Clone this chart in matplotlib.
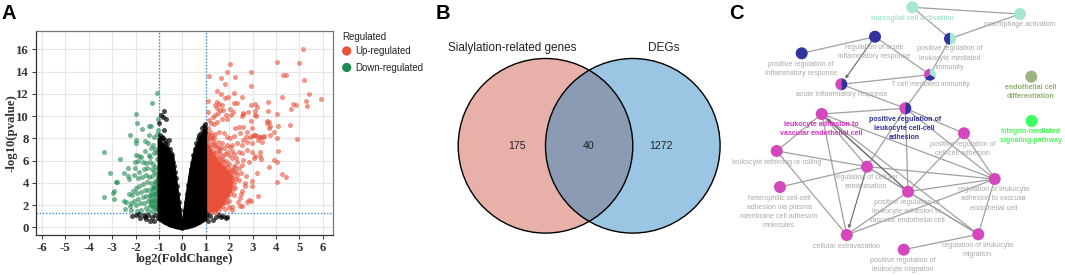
import matplotlib
matplotlib.use("Agg")
import matplotlib.pyplot as plt
from matplotlib.patches import Circle, Wedge

plt.rcParams['axes.unicode_minus'] = False
W, H = 1065, 275
SANS = 'Liberation Sans'
SERIF = 'Liberation Serif'

# ---------- Panel A data
x_ticks = list(range(-6, 7))
y_ticks = list(range(0, 17, 2))
up_points = [(5.17,16.0),(2.05,14.7),(4.03,14.9),(4.98,14.8),(1.92,14.0),(2.93,14.0),(1.14,13.6),(1.66,13.4),(2.23,13.5),
 (4.28,13.7),(4.42,13.7),(5.21,13.2),(1.83,12.9),(2.93,12.7),(1.46,12.3),(2.19,12.1),(5.41,12.0),(1.65,12.0),(4.25,11.7),
 (2.54,11.7),(1.95,11.7),(5.92,11.5),(1.09,11.35),(3.65,11.3),(5.27,11.4),(4.72,11.1),(4.86,11.0),(5.31,10.95),(2.93,11.0),
 (3.11,11.05),(3.18,10.8),(4.65,10.6),(3.65,10.5),(4.03,10.2),(2.58,10.2),(3.11,10.1),(4.6,9.2),(4.1,9.15),(3.6,9.6),(3.7,9.5),
 (3.75,9.1),(3.68,8.9),(3.93,8.6),(3.75,8.3),(4.03,8.05),(4.89,7.9),(3.47,8.2),(3.32,8.1),(3.11,8.3),(2.97,8.2),(4.1,6.9),
 (3.93,6.05),(4.05,5.9),(3.68,5.45),(4.26,4.8),(4.42,4.5),(4.05,4.1),(3.18,4.85),
 (1.83,11.6),(1.48,11.3),(1.55,11.1),(1.41,11.0),(1.69,11.0),(2.19,11.2),(2.33,11.2),(1.08,10.4),(1.48,10.7),(1.62,10.55),
 (1.72,10.55),(2.05,10.6),(2.16,10.4),(1.52,10.25),(1.41,10.1),(1.29,9.9),(1.86,10.1),(2.07,10.1),(2.57,10.25),(2.54,10.0),
 (2.8,10.4),(3.08,10.45),(3.14,10.0),(1.69,9.7),(1.9,9.7),(1.12,9.65),(1.24,9.4),(1.33,9.26),(1.48,9.5),(2.4,9.0),(2.23,8.9),
 (2.57,9.05),(2.94,9.6),(3.6,9.35),(2.97,8.96),(2.76,8.6),(3.04,8.3),(3.18,8.2),(3.33,8.15),(3.44,8.15),(2.9,8.15),(2.7,8.1),
 (2.59,7.85),(2.47,8.45),(2.19,8.2),(2.05,8.0),(1.9,8.15),(1.76,8.45),(1.55,8.6),(1.41,8.4),(2.76,7.7),(2.97,7.55),(3.22,7.85),
 (3.4,7.65),(2.54,7.4),(2.33,7.55),(2.12,7.4),(1.9,7.4),(1.76,7.1),(2.05,7.25),(2.4,6.8),(2.54,6.65),(2.76,6.95),(2.97,6.8),
 (3.11,6.4),(3.33,6.8),(3.3,6.4),(3.35,6.1),(3.04,6.2),(2.12,6.2),(2.33,5.9),(2.59,6.05),(2.83,5.9),(2.54,5.6),(2.26,5.45),
 (2.12,5.15),(2.73,4.65),(2.33,4.7),(2.4,4.25),(2.66,4.0),(2.97,4.15),(2.68,3.7),(2.97,3.7),(2.19,3.95),(2.54,3.3),(2.51,3.0),
 (2.47,2.6),(3.25,2.85),(2.83,2.45),(2.94,2.4),(2.76,2.3),(2.36,2.25),(2.54,1.95),(2.12,1.87),(1.97,1.87),(1.83,1.65),(2.47,1.93),
 (2.12,1.55),(2.0,6.5),(1.9,6.8),(2.1,6.9),(2.2,6.6),(2.3,6.2),(2.0,5.7),(2.2,5.5),(2.4,5.3),(2.05,4.9),(2.3,5.0),(2.5,4.9),
 (2.0,4.5),(2.15,4.4),(2.25,3.5),(2.1,3.3),(1.9,2.7),(2.0,2.4),(2.2,2.9),(1.8,2.3),(1.7,1.9),(1.6,7.2),(1.7,7.6),(1.5,7.7),
 (1.35,8.0),(1.2,8.6),(1.1,8.9),(1.3,7.7),(1.85,6.0),(1.75,6.4),(1.65,6.0),(1.05,8.2),(1.15,7.9),(1.25,8.3),(1.4,7.3),(1.55,6.9),
 # dense but not solid part above the solid mass
 (1.04,7.6),(1.08,7.2),(1.03,6.9),(1.12,6.8),(1.06,7.9),(1.18,7.5),(1.24,7.2),(1.3,6.9),(1.22,6.6),(1.35,6.6),(1.42,6.8),(1.48,6.3),
 (1.38,6.1),(1.3,6.3),(1.55,6.2),(1.62,6.6),(1.7,6.1),(1.78,5.9),(1.6,5.7),(1.5,5.6),(1.68,5.5),(1.82,5.4),(1.9,5.5),(1.95,5.1),
 (1.78,5.1),(1.1,8.4),(1.18,8.1),(1.28,8.0),(1.35,7.5),(1.47,7.2),(1.62,7.0),(1.8,6.6),(2.02,5.2),(2.12,4.8),(2.1,4.2),(2.18,3.6),
 (2.05,3.7),(2.02,3.0),(1.92,2.3),(1.75,2.2),(1.62,1.75),(1.5,1.5),(1.38,1.35),(1.25,1.4),(1.12,1.45),(1.04,1.5),(1.9,3.1),
 (2.08,4.5),(2.22,5.1),(2.28,4.3),(2.0,3.4)]
down_points = [(-1.08,12.1),(-1.31,11.2),(-1.96,10.2),(-1.95,9.35),(-1.72,8.8),(-1.44,9.1),(-1.34,9.1),(-1.04,9.7),(-1.05,8.75),
 (-2.25,8.27),(-1.41,8.33),(-1.22,8.09),(-1.08,8.36),(-1.98,7.85),(-2.0,7.55),(-1.58,7.76),(-1.48,7.55),(-1.25,7.4),(-3.33,6.8),
 (-1.86,6.4),(-1.98,6.5),(-1.76,6.3),(-2.67,6.17),(-1.44,6.5),(-1.36,6.3),(-1.22,6.65),(-1.08,6.8),(-2.03,5.85),(-2.33,5.34),
 (-2.03,5.3),(-2.49,4.92),(-3.08,4.88),(-2.32,4.6),(-2.26,4.38),(-2.79,4.08),(-2.82,4.08),(-2.93,3.24),(-2.94,3.12),(-3.35,2.73),
 (-2.91,2.52),(-2.49,2.34),(-2.39,2.31),(-2.46,1.65),(-2.22,1.92),(-2.19,1.56),(-2.15,2.9),(-2.26,3.0),
 (-1.9,6.0),(-1.7,5.9),(-1.55,5.8),(-1.4,5.9),(-1.25,5.7),(-1.1,6.1),(-1.15,5.4),(-1.3,5.2),(-1.5,5.3),(-1.65,5.2),(-1.85,5.0),
 (-2.05,4.7),(-1.9,4.4),(-1.72,4.5),(-1.55,4.7),(-1.42,4.5),(-1.28,4.6),(-1.12,4.8),(-1.18,4.2),(-1.35,4.0),(-1.5,4.1),(-1.68,3.9),
 (-1.85,3.7),(-2.0,3.5),(-2.12,3.3),(-1.95,3.1),(-1.78,3.2),(-1.6,3.4),(-1.45,3.4),(-1.3,3.5),(-1.15,3.6),(-1.08,3.1),(-1.22,3.0),
 (-1.38,2.95),(-1.55,2.85),(-1.7,2.7),(-1.88,2.55),(-2.05,2.4),(-2.2,2.2),(-1.98,2.0),(-1.8,2.2),(-1.62,2.2),(-1.45,2.4),(-1.3,2.4),
 (-1.15,2.5),(-1.08,2.0),(-1.22,1.9),(-1.38,1.9),(-1.55,1.75),(-1.75,1.6),(-1.95,1.5),(-1.12,1.55),(-1.28,1.5),(-1.45,1.45),
 (-1.05,5.2),(-1.05,4.4),(-1.05,3.9),(-1.05,3.3),(-1.05,2.7),(-1.05,2.3),(-1.05,1.7),(-1.15,7.0),(-1.35,7.1),(-1.6,6.9),(-1.2,4.95)]
other_points = [(-2.15,1.05),(-2.0,1.15),(-1.85,1.2),(-1.8,0.85),(-1.65,1.1),(-1.55,0.75),(-1.45,1.1),(-1.4,0.55),(-1.3,0.9),(-1.2,0.55),
 (-1.15,1.15),(-1.05,0.8),(-1.6,0.9),(-0.8,10.5),(-0.91,10.1),(-0.84,9.95),(-0.7,9.7),(-1.0,9.4),(-0.77,8.75),(-0.87,8.15),(-0.58,7.85),
 (-0.72,7.85),(-0.94,7.55),(-0.65,7.45),(-0.82,7.4),(-0.52,7.0),(-0.45,6.5),(-0.4,5.9),(-0.95,8.3),
 (0.98,9.3),(0.93,9.1),(0.85,8.9),(0.8,8.5),(0.7,8.3),(0.68,7.9),(0.85,8.0),(0.62,7.3),(0.96,8.6),(0.74,7.6),(0.58,6.8),(0.5,6.2),
 (0.45,5.7),(1.05,1.2),(1.2,1.0),(1.3,0.7),(1.45,0.95),(1.55,1.1),(1.65,0.9),(1.75,1.05),(1.85,0.8),(1.9,0.95),(1.1,0.6),(1.0,0.9),
 (-0.96,8.0),(-0.9,7.9),(-0.82,8.0),(-0.75,7.6),(-0.68,7.2),(-0.6,7.0),(-0.5,6.7),(-0.44,6.2),(-0.37,5.5),(-0.33,5.0),(-0.29,4.4),
 (-0.24,3.7),(-0.19,3.0),(-0.14,2.3),(-0.1,1.6),(0.1,1.6),(0.15,2.3),(0.2,3.0),(0.26,3.8),(0.31,4.5),(0.36,5.2),(0.41,5.8),(0.47,6.5),
 (0.53,7.0),(0.6,7.6),(0.66,7.4),(0.72,8.1),(0.8,7.9),(0.88,8.4),(0.92,8.7),(0.97,8.9)]
# outlines of the parts where the dots merge into a solid mass
black_left_x = [-1.0,-1.0,-0.85,-0.7,-0.55,-0.43,-0.36,-0.27,-0.17,-0.08,-0.03,0.0,0.0,-0.25,-0.5,-0.75,-1.0]
black_left_y = [0.7,7.8,7.5,7.2,6.8,6.4,5.6,4.2,2.7,1.2,0.5,0.3,-0.15,-0.05,0.1,0.35,0.7]
black_right_x = [0.0,0.0,0.03,0.08,0.2,0.33,0.45,0.55,0.7,0.85,1.0,1.0,0.75,0.5,0.25,0.0]
black_right_y = [-0.15,0.3,0.5,1.2,3.0,4.8,6.1,7.0,7.7,8.3,8.8,0.7,0.35,0.1,-0.05,-0.15]
red_x = [1.0,1.0,1.15,1.3,1.5,1.7,1.9,2.08,2.12,2.0,1.85,1.65,1.45,1.1]
red_y = [1.6,7.6,7.2,6.6,6.0,5.5,5.1,4.6,3.7,3.0,2.5,1.9,1.5,1.45]
green_x = [-1.0,-1.0,-1.12,-1.3,-1.45,-1.4,-1.25,-1.1]
green_y = [1.5,5.0,4.4,3.6,2.7,1.9,1.6,1.45]
fc_cut = [-1, 1]
p_cut = 1.3

# ---------- Panel B data
venn_titles = ['Sialylation-related genes', 'DEGs']
venn_counts = ['175', '40', '1272']

# ---------- Panel C data
node_names = ['micro','macro','immun','acute_reg','inflam','acute','tcell','cellcell','adh','cc_adh','endo','integ',
              'teth','extrav_reg','hetero','pos_adh','reg_adh','extrav','mig','pos_mig']
node_x = [912.3,1020,950,875,801.7,841.3,930,905.3,821.7,964,1031.3,1031.7,776.7,867,780,908,994.7,846.7,978.3,903.7]
node_y = [7.3,14,38.7,36.7,53.3,84.3,74.7,108.3,114,133.3,76.7,121,151,166.7,187,191.7,179,235,234.3,249.7]
MAG, NAVY, TEAL = '#d447bd', '#33339f', '#a4e6d2'
node_colors = {'micro':TEAL,'macro':TEAL,'acute_reg':NAVY,'inflam':NAVY,'adh':MAG,'cc_adh':MAG,'endo':'#9cb383','integ':'#3ffb62',
               'teth':MAG,'extrav_reg':MAG,'hetero':MAG,'pos_adh':MAG,'reg_adh':MAG,'extrav':MAG,'mig':MAG,'pos_mig':MAG}
split_nodes = {'immun':[(NAVY,90,270),(TEAL,-90,90)],'acute':[(MAG,90,270),(NAVY,-90,90)],'cellcell':[(MAG,90,270),(NAVY,-90,90)],
               'tcell':[(TEAL,-90,30),(NAVY,30,150),(MAG,150,270)]}
edges = [('micro','macro'),('micro','immun'),('macro','immun'),('acute_reg','inflam'),('acute_reg','tcell'),('immun','tcell'),
         ('acute','tcell'),('acute','cellcell'),('tcell','cellcell'),('cellcell','adh'),('cellcell','cc_adh'),('cellcell','extrav_reg'),
         ('cellcell','pos_adh'),('cellcell','reg_adh'),('adh','teth'),('adh','extrav_reg'),('adh','extrav'),('adh','pos_adh'),
         ('adh','reg_adh'),('adh','mig'),('teth','extrav_reg'),('teth','extrav'),('hetero','extrav_reg'),('extrav_reg','reg_adh'),
         ('extrav_reg','pos_adh'),('extrav_reg','mig'),('pos_adh','reg_adh'),('pos_adh','extrav'),('pos_adh','mig'),('reg_adh','extrav'),
         ('reg_adh','mig'),('cc_adh','reg_adh'),('cc_adh','pos_adh'),('mig','pos_mig')]
arrows = [('acute_reg','acute'),('extrav_reg','extrav'),('pos_adh','adh')]
GR = '#a9a9a9'
labels = [('microglial cell activation',912.3,18,TEAL,'bold'),('macrophage activation',1020,25,GR,'normal'),
 ('positive regulation of\nleukocyte mediated\nimmunity',949.5,58,GR,'normal'),
 ('regulation of acute\ninflammatory response',874,52,GR,'normal'),
 ('positive regulation of\ninflammatory response',801,68.7,GR,'normal'),
 ('acute inflammatory response',841.3,95,GR,'normal'),('T cell mediated immunity',930.3,85,GR,'normal'),
 ('positive regulation of\nleukocyte cell-cell\nadhesion',904.7,128.3,NAVY,'bold'),
 ('leukocyte adhesion to\nvascular endothelial cell',821,129.3,'#d92fc0','bold'),
 ('positive regulation of\ncell-cell adhesion',962.7,149,GR,'normal'),
 ('endothelial cell\ndifferentiation',1030.3,92,'#8fb170','bold'),
 ('integrin-mediated\nsignaling pathway',1031,136,'#45fb55','bold'),
 ('leukocyte tethering or rolling',776.7,162,GR,'normal'),
 ('regulation of cellular\nextravasation',866,182,GR,'normal'),
 ('heterophilic cell-cell\nadhesion via plasma\nmembrane cell adhesion\nmolecules',779,212,GR,'normal'),
 ('positive regulation of\nleukocyte adhesion to\nvascular endothelial cell',907,211.7,GR,'normal'),
 ('regulation of leukocyte\nadhesion to vascular\nendothelial cell',994,199,GR,'normal'),
 ('cellular extravasation',846.7,246,GR,'normal'),
 ('regulation of leukocyte\nmigration',977.3,250,GR,'normal'),
 ('positive regulation of\nleukocyte migration',903,265,GR,'normal')]

fig = plt.figure(figsize=(W/100, H/100), dpi=100)
bg = fig.add_axes([0,0,1,1]); bg.set_xlim(0,W); bg.set_ylim(H,0); bg.axis('off')

# ---------- Panel A
L,R,T,B = 35.7,333,31,235
ax = fig.add_axes([L/W, 1-B/H, (R-L)/W, (B-T)/H])
ax.set_xlim(-6.26,6.43); ax.set_ylim(-0.69,17.65)
ax.set_xticks(x_ticks); ax.set_yticks(y_ticks)
ax.grid(color='#e6e6e6', lw=0.8, zorder=0); ax.set_axisbelow(True)
for s in ['top','right']:
    ax.spines[s].set_color('#777777'); ax.spines[s].set_linewidth(0.9)
for s in ['left','bottom']:
    ax.spines[s].set_color('#333333'); ax.spines[s].set_linewidth(0.9)
ax.tick_params(length=3, width=0.7, pad=2, color='#333333')
for t in ax.get_xticklabels()+ax.get_yticklabels():
    t.set_fontfamily(SERIF); t.set_fontweight('bold'); t.set_fontsize(9.2); t.set_color('#333333')
ax.set_xlabel('log2(FoldChange)', family=SERIF, weight='bold', fontsize=9.2, color='#333333', labelpad=-1)
ax.set_ylabel('-log10(pvalue)', family=SERIF, weight='bold', fontsize=9.2, color='#333333', labelpad=-1)
for v in fc_cut:
    ax.axvline(v, color='#3d8fd6', ls=(0,(1,1.3)), lw=1.0, zorder=1)
ax.axhline(p_cut, color='#3d8fd6', ls=(0,(1,1.3)), lw=1.0, zorder=1)
RED, GREEN = '#e8503a', '#1f8a52'
def dots(pts, c, a):
    ax.scatter([p[0] for p in pts],[p[1] for p in pts], s=13, c=c, alpha=a, linewidths=0, zorder=3)
dots(down_points, GREEN, .6); dots(up_points, RED, .6); dots(other_points, 'black', .7)
ax.fill(green_x, green_y, color=GREEN, alpha=.7, lw=0, zorder=3)
ax.fill(red_x, red_y, color=RED, lw=1.5, zorder=3)
ax.fill(black_left_x, black_left_y, color='black', lw=2, zorder=4)
ax.fill(black_right_x, black_right_y, color='black', lw=2, zorder=4)

# legend
bg.text(342,36.5,'Regulated',family=SANS,fontsize=7,va='center',color='#222222')
for yy,c,s in [(51,'#e8503a','Up-regulated'),(67.5,'#1f8a52','Down-regulated')]:
    bg.add_patch(Circle((346.7,yy),4.6,color=c,lw=0))
    bg.text(355,yy+0.5,s,family=SANS,fontsize=6.9,va='center',color='#222222')

# ---------- panel letters
for s,x in [('A',2),('B',436),('C',729)]:
    bg.text(x,13.5,s,family=SANS,weight='bold',fontsize=14.5,va='center',ha='left',color='black')

# ---------- Panel B
cL,cR,cy,r = (545.5,145.8),(632.8,145.8),145.8,87.3
bg.add_patch(Circle(cL,r,fc='#e7b0a8',ec='none'))
bg.add_patch(Circle(cR,r,fc='#9ac6e3',ec='none'))
ov = Circle(cR,r,fc='#8a9bb3',ec='none'); bg.add_patch(ov)
ov.set_clip_path(Circle(cL,r,transform=bg.transData))
bg.add_patch(Circle(cL,r,fc='none',ec='black',lw=1))
bg.add_patch(Circle(cR,r,fc='none',ec='black',lw=1))
bg.text(512.5,48,venn_titles[0],family=SANS,fontsize=8.45,ha='center',va='center',color='#222222')
bg.text(663.5,48,venn_titles[1],family=SANS,fontsize=8.45,ha='center',va='center',color='#222222')
for s,x in zip(venn_counts,[517.5,589,661]):
    bg.text(x,146,s,family=SANS,fontsize=7.6,ha='center',va='center',color='#222222')

# ---------- Panel C
pos = {n:(x,y) for n,x,y in zip(node_names,node_x,node_y)}
for a,b in edges:
    bg.plot(*zip(pos[a],pos[b]),color='#a0a0a0',lw=0.9,zorder=2,solid_capstyle='round')
for a,b in arrows:
    bg.annotate('',xy=pos[b],xytext=pos[a],zorder=2,
                arrowprops=dict(arrowstyle='-|>',mutation_scale=4,color='#666666',lw=0.8,shrinkA=0,shrinkB=5))
NR = 6
for n in node_names:
    if n in split_nodes:
        for c,a1,a2 in split_nodes[n]:
            bg.add_patch(Wedge(pos[n],NR,a1,a2,fc=c,ec='none',zorder=3))
    else:
        bg.add_patch(Circle(pos[n],NR,fc=node_colors[n],ec='none',zorder=3))
for s,x,y,c,w in labels:
    bg.text(x,y,s,family=SANS,fontsize=5.1,weight=w,color=c,ha='center',va='center',linespacing=1.42,zorder=4)

fig.savefig('out.png',dpi=100)
